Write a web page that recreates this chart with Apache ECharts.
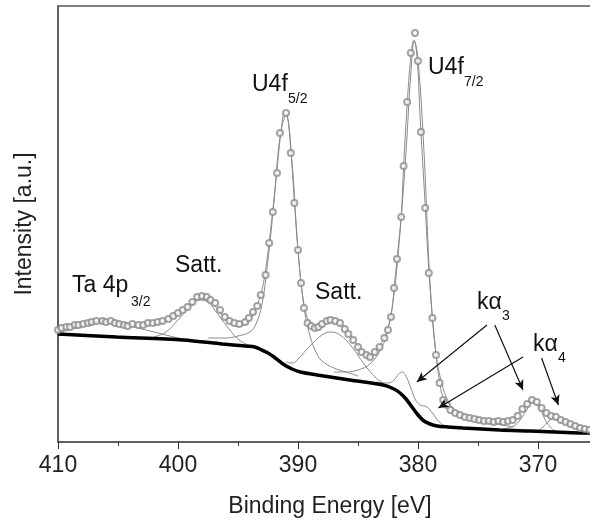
<!DOCTYPE html>
<html>
<head>
<meta charset="utf-8">
<script src="https://cdn.jsdelivr.net/npm/echarts@6/dist/echarts.min.js"></script>
<style>
  html, body { margin: 0; padding: 0; background: #fff; }
  #chart { width: 590px; height: 523px; }
</style>
</head>
<body>
<div id="chart"></div>
<script>
// binding energy ticks
const xTicks = [410, 400, 390, 380, 370];

// measured spectrum (open circles): [eV, intensity a.u.]
const measured = [
  [410.0, 112], [409.7, 114], [409.3, 115], [409.0, 115], [408.6, 117], [408.3, 117],
  [407.9, 118], [407.5, 119], [407.2, 120], [406.8, 121], [406.3, 121], [406.0, 120],
  [405.6, 121], [405.25, 119], [404.9, 118], [404.5, 117], [404.2, 116], [403.8, 118],
  [403.3, 117], [402.9, 117], [402.5, 119], [402.1, 119], [401.7, 120], [401.3, 121],
  [400.8, 123], [400.4, 126], [400.0, 129], [399.6, 132], [399.2, 135], [398.8, 140],
  [398.4, 145], [398.0, 146], [397.6, 145], [397.3, 142], [396.9, 139], [396.5, 132],
  [396.1, 125], [395.7, 121], [395.3, 119], [394.9, 118], [394.4, 120], [394.1, 124],
  [393.75, 130], [393.4, 136], [393.1, 147], [392.7, 167], [392.4, 199], [392.1, 230],
  [391.75, 269], [391.5, 309], [391.0, 329], [390.6, 289], [390.3, 239], [390.0, 192],
  [389.75, 159], [389.5, 134], [389.2, 119], [388.9, 116], [388.6, 114], [388.3, 115],
  [388.0, 118], [387.6, 121], [387.3, 122], [386.9, 121], [386.5, 119], [386.1, 113],
  [385.8, 108], [385.4, 102], [385.0, 95], [384.7, 90], [384.3, 87], [384.0, 85],
  [383.6, 90], [383.2, 95], [382.8, 104], [382.5, 112], [382.25, 125], [382.0, 154],
  [381.75, 183], [381.4, 225], [381.2, 276], [380.9, 340], [380.6, 389], [380.25, 409],
  [380.0, 381], [379.75, 310], [379.4, 234], [379.1, 169], [378.8, 124], [378.5, 87],
  [378.2, 59], [377.9, 42], [377.6, 37], [377.3, 32], [376.9, 29], [376.5, 27],
  [376.1, 25], [375.7, 24], [375.3, 23], [374.9, 22], [374.5, 21], [374.1, 21],
  [373.7, 20], [373.3, 21], [372.9, 20], [372.5, 21], [372.1, 22], [371.7, 26],
  [371.3, 33], [370.9, 38], [370.5, 42], [370.1, 40], [369.7, 34], [369.3, 29],
  [368.9, 26], [368.5, 25], [368.1, 22], [367.7, 20], [367.3, 18], [366.9, 16],
  [366.5, 14], [366.1, 13], [365.7, 12]
];

// overall fit envelope
const envelope = [
  [410, 112], [408.5, 116], [407, 120], [406, 121], [405, 119], [404, 117], [403, 117],
  [402, 118], [401, 121], [400, 128], [399, 137], [398.2, 143], [397.5, 142], [397, 137],
  [396, 123], [395, 116], [394.3, 118], [393.8, 126], [393.3, 140], [393, 152], [392.7, 172],
  [392.4, 200], [392.1, 232], [391.75, 272], [391.4, 312], [391.1, 329], [390.9, 327],
  [390.6, 292], [390.3, 240], [390, 192], [389.7, 155], [389.4, 132], [389, 118], [388.5, 114],
  [388, 117], [387.4, 121], [386.8, 120], [386, 113], [385.4, 103], [385, 96], [384.4, 88],
  [384, 86], [383.5, 90], [383, 100], [382.5, 114], [382.2, 130], [382, 152], [381.75, 183],
  [381.4, 226], [381.2, 276], [380.9, 338], [380.6, 385], [380.35, 402], [380.1, 388],
  [379.8, 320], [379.4, 236], [379.1, 172], [378.8, 125], [378.5, 88], [378.2, 60], [377.9, 44],
  [377.4, 33], [376.5, 26], [375.5, 23], [374.5, 21], [373.5, 20], [372.5, 21], [371.8, 26],
  [371.2, 35], [370.5, 41], [370, 38], [369.5, 31], [369, 26], [368.5, 24], [367.8, 20],
  [367, 16], [366.3, 13], [365.5, 11]
];

// Shirley-type background
const background = [
  [410, 108], [405.1, 105], [399.6, 102], [396.3, 98], [395.4, 97], [393.6, 95], [393.2, 93],
  [392.5, 89], [392, 85], [391.25, 78], [390.5, 73], [389.8, 70], [388.4, 67], [385.7, 62],
  [382.9, 57], [382, 53], [381.5, 49], [381, 43], [380.5, 35], [380, 27], [379.5, 21],
  [379, 18], [378.4, 16], [377.5, 15], [376.25, 14], [373.2, 12], [370.7, 11], [365.9, 9],
  [365, 9]
];

// fitted components (background included)
const ta4p = [
  [410, 109], [408.5, 114], [407, 118], [406, 120], [405, 119], [404, 116], [403, 113],
  [402, 110], [401, 107], [400, 104], [399, 102]
];
const satt1 = [
  [402, 105], [401, 110], [400, 122], [399, 135], [398.2, 142], [397.5, 140], [397, 133],
  [396, 117], [395, 103], [394, 96], [393.5, 94]
];
const u4f52 = [
  [397.5, 104], [396, 104], [395, 106], [394, 110], [393.5, 118], [393, 138], [392.5, 182],
  [392, 240], [391.5, 305], [391, 327], [390.5, 280], [390, 192], [389.5, 135], [389, 106],
  [388.5, 90], [388, 81], [387, 74], [386, 70], [385, 66]
];
const satt2 = [
  [391, 80], [390.4, 79], [390, 83], [389, 96], [388, 107], [387.3, 110], [386.5, 107],
  [385.5, 95], [384.5, 78], [383.5, 64], [383, 60]
];
const ka3a = [
  [383.5, 60], [382.5, 59], [382, 62], [381.6, 68], [381.3, 70], [381, 66], [380.6, 54],
  [380.2, 42], [379.8, 37], [379.25, 35], [378.8, 29], [378.3, 21], [377.8, 16]
];
const u4f72 = [
  [387, 70], [386, 70], [385, 72], [384, 78], [383, 95], [382.5, 113], [382, 148],
  [381.5, 210], [381, 290], [380.6, 368], [380.3, 401], [380, 383], [379.5, 290], [379, 160],
  [378.5, 88], [378, 58], [377.5, 41], [377, 33], [376, 26], [375, 22], [374, 19], [373, 17],
  [372, 15]
];
const ka3b = [
  [373, 13], [372, 16], [371.5, 22], [371, 31], [370.4, 40], [369.8, 32], [369.3, 20],
  [368.8, 13], [368.5, 11]
];
const ka4 = [
  [370, 11], [369.5, 16], [369, 22], [368.6, 24], [368, 21], [367.3, 16], [366.5, 12], [366, 10]
];

// annotation arrows: [from, to] in data coords
const arrows = [
  [[374.25, 117], [380.1, 60]],
  [[373.6, 117], [371.25, 52]],
  [[371.25, 85], [378.3, 34]],
  [[369.7, 84], [368.3, 37]]
];

const chart = echarts.init(document.getElementById("chart"));

const font = "Liberation Sans";

const thin = (name, data) => ({
  name,
  type: "line",
  data,
  smooth: 0.4,
  showSymbol: false,
  lineStyle: { color: "#8a8a8a", width: 1 },
  silent: true,
  z: 2
});

const txt = (x, y, s, size) => ({
  type: "text",
  left: x,
  top: y,
  style: { text: s, fontSize: size, fontFamily: font, fill: "#111" }
});

chart.setOption({
  animation: false,
  grid: {
    left: 58, width: 600, top: 6, height: 436,
    outerBoundsMode: "none",
    show: true, borderColor: "#555", borderWidth: 1.5
  },
  xAxis: {
    type: "value",
    inverse: true,
    min: 360,
    max: 410,
    interval: 10,
    name: "Binding Energy [eV]",
    nameLocation: "middle",
    nameGap: 53,
    nameTextStyle: { fontSize: 23, fontFamily: font, color: "#222", padding: [0, 56, 0, 0] },
    axisLine: { lineStyle: { color: "#555", width: 1.5 } },
    axisTick: { length: 7, lineStyle: { color: "#333" } },
    minorTick: { show: true, splitNumber: 2, length: 4, lineStyle: { color: "#333" } },
    axisLabel: {
      fontSize: 23, fontFamily: font, color: "#222", margin: 12,
      formatter: v => (xTicks.includes(v) ? String(v) : "")
    },
    splitLine: { show: false }
  },
  yAxis: {
    type: "value",
    min: 0,
    max: 436,
    name: "Intensity [a.u.]",
    nameLocation: "middle",
    nameGap: 22,
    nameTextStyle: { fontSize: 23, fontFamily: font, color: "#222" },
    axisLine: { show: true, lineStyle: { color: "#555", width: 1.5 } },
    axisTick: { show: false },
    axisLabel: { show: false },
    splitLine: { show: false }
  },
  series: [
    thin("Ta 4p3/2", ta4p),
    thin("Satt. 1", satt1),
    thin("U4f5/2", u4f52),
    thin("Satt. 2", satt2),
    thin("ka3 (U4f5/2)", ka3a),
    thin("U4f7/2", u4f72),
    thin("ka3 (U4f7/2)", ka3b),
    thin("ka4", ka4),
    thin("fit", envelope),
    {
      name: "background",
      type: "line",
      data: background,
      smooth: 0.3,
      showSymbol: false,
      lineStyle: { color: "#000", width: 3.5 },
      z: 3,
      markLine: {
        silent: true,
        symbol: ["none", "arrow"],
        symbolSize: [7, 10],
        label: { show: false },
        lineStyle: { color: "#111", width: 1.2, type: "solid" },
        data: arrows.map(a => [{ coord: a[0] }, { coord: a[1] }])
      }
    },
    {
      name: "data",
      type: "scatter",
      data: measured,
      symbol: "emptyCircle",
      symbolSize: 6,
      itemStyle: { color: "#8c8c8c", borderWidth: 0.7 },
      z: 4
    }
  ],
  graphic: [
    txt(72, 274, "Ta 4p", 23), txt(131, 295, "3/2", 14),
    txt(175, 254, "Satt.", 23),
    txt(252, 73, "U4f", 23), txt(288, 92, "5/2", 14),
    txt(428, 56, "U4f", 23), txt(464, 75, "7/2", 14),
    txt(315, 281, "Satt.", 23),
    txt(477, 291, "k\u03b1", 23), txt(502, 309, "3", 14),
    txt(533, 333, "k\u03b1", 23), txt(558, 351, "4", 14)
  ]
});
</script>
</body>
</html>
